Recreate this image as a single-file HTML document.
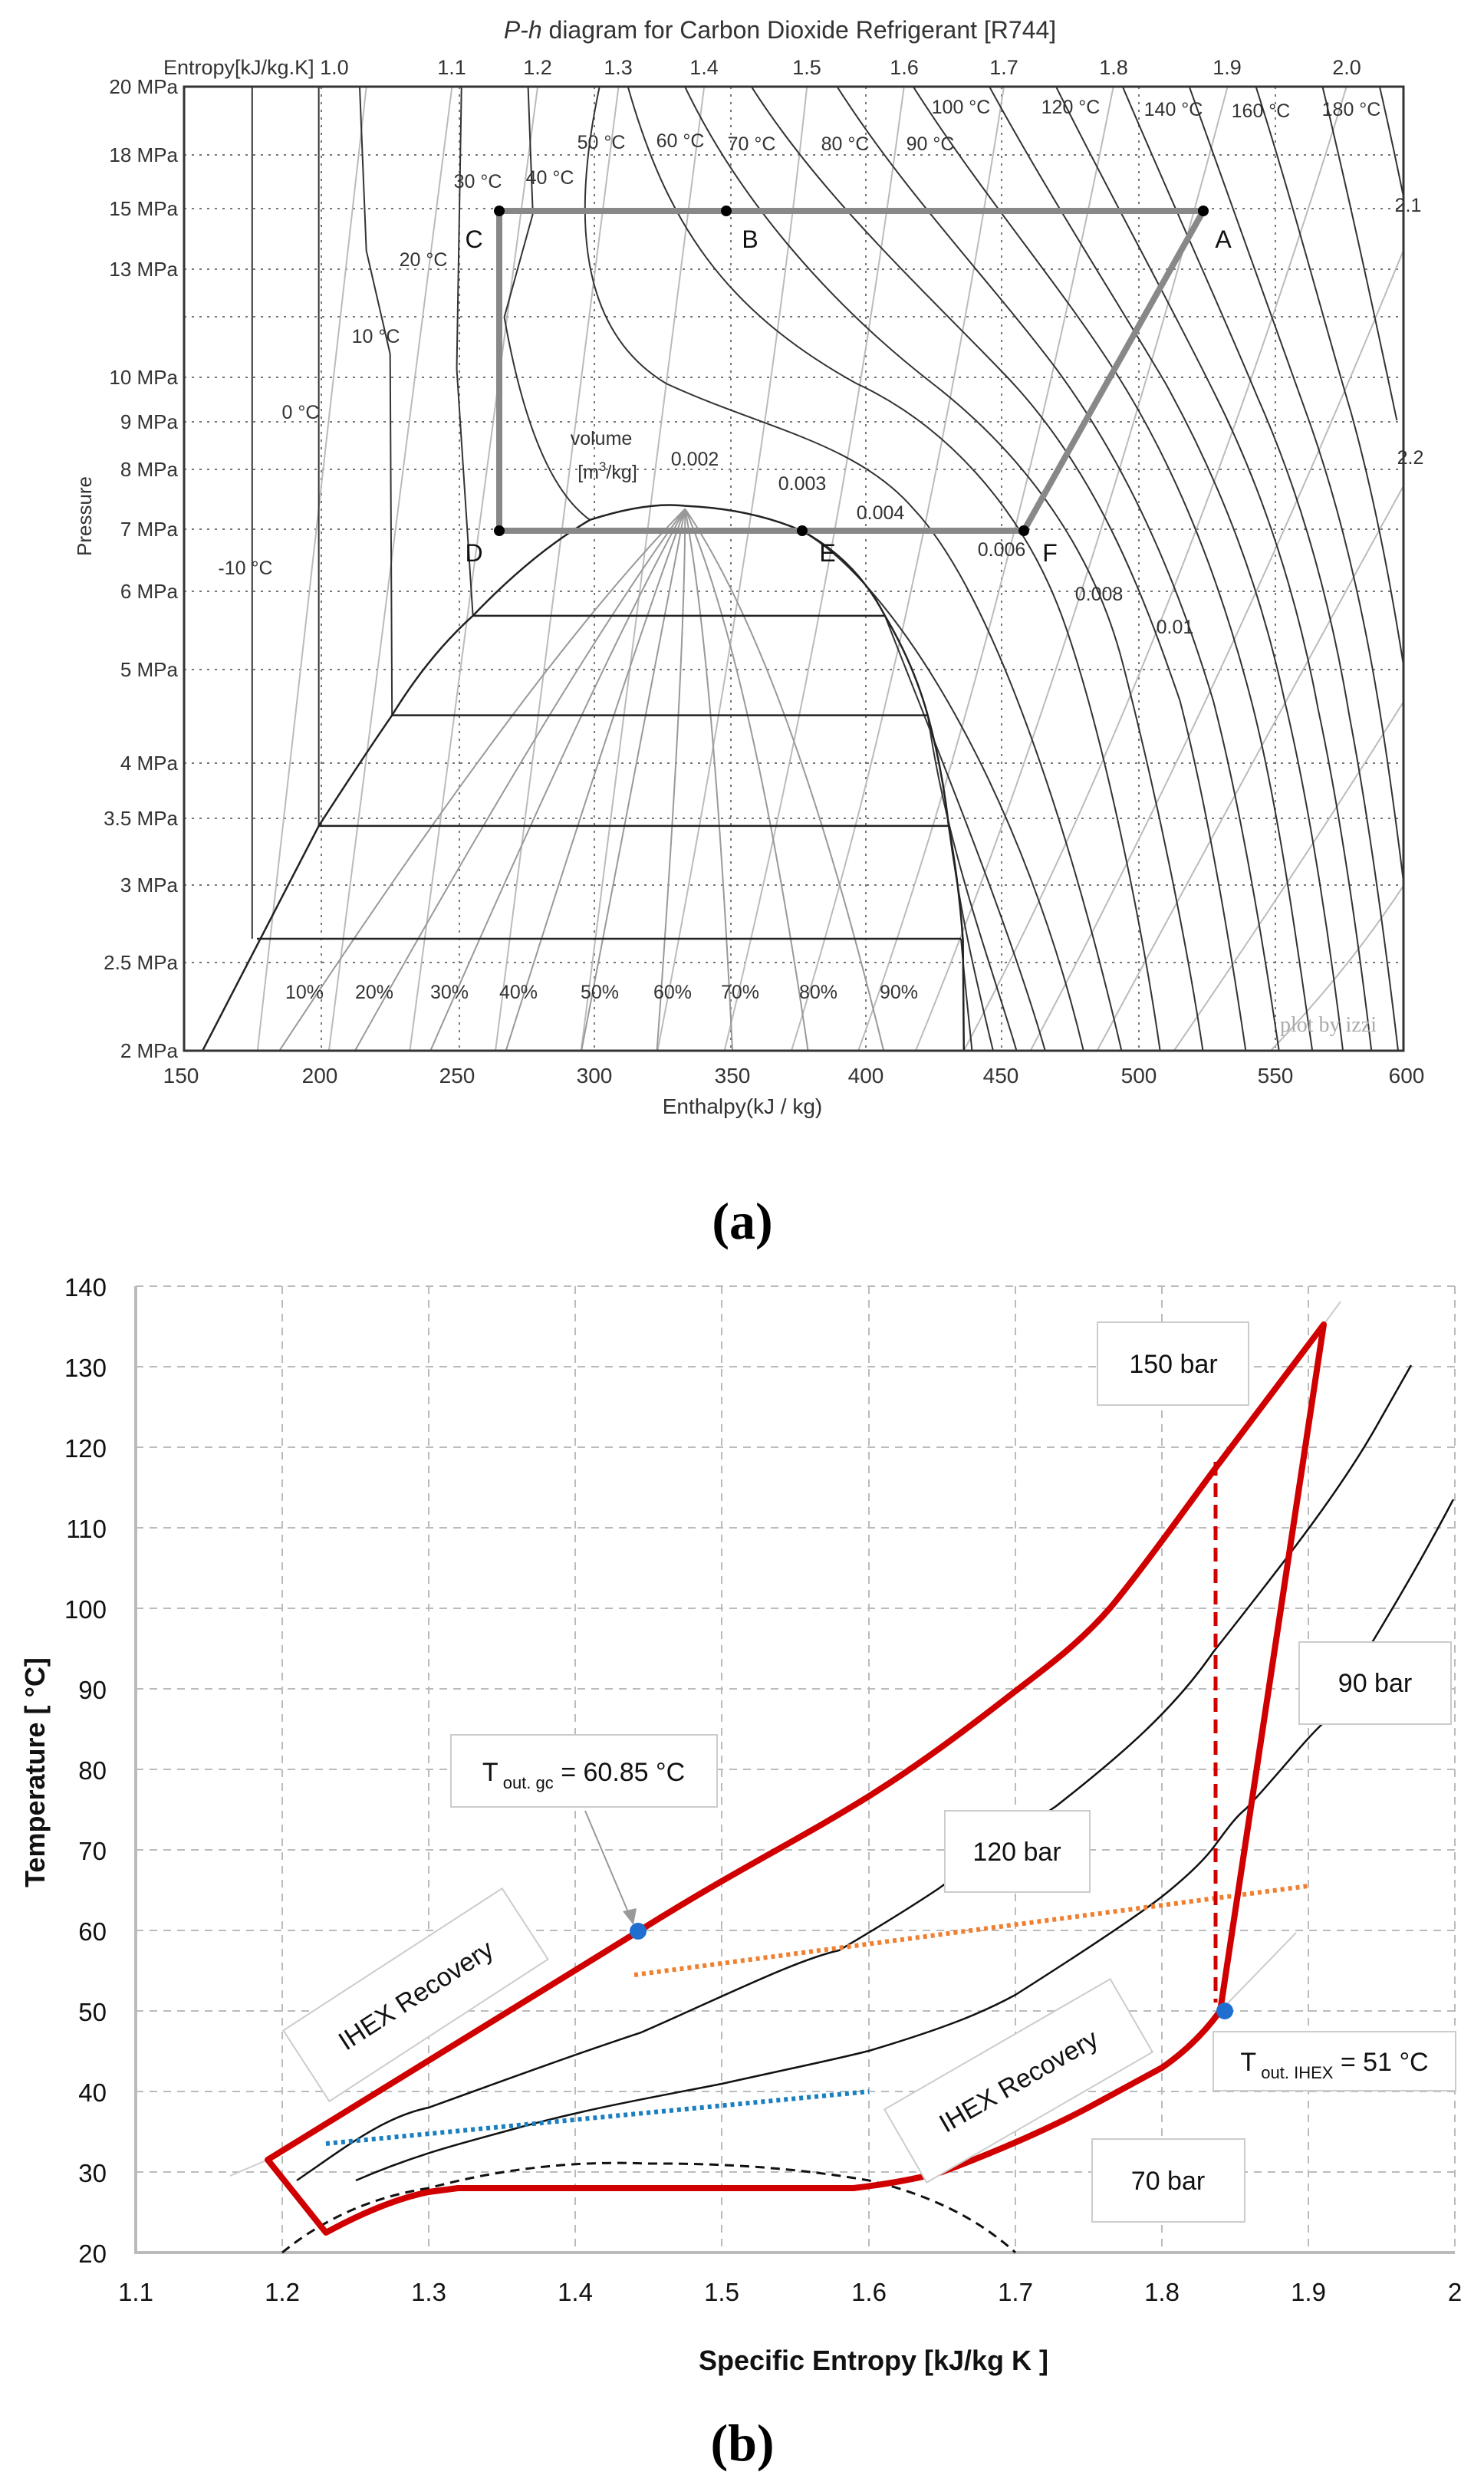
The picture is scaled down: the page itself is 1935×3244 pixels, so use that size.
<!DOCTYPE html>
<html><head><meta charset="utf-8"><style>
html,body{margin:0;padding:0;background:#fff}
svg{display:block}
.t{font-family:"Liberation Sans",sans-serif}
</style></head><body>
<svg width="1935" height="3244" viewBox="0 0 1935 3244" xmlns="http://www.w3.org/2000/svg">
<rect width="1935" height="3244" fill="#fff"/>
<defs><clipPath id="cp"><rect x="240" y="113" width="1590" height="1257"/></clipPath></defs>

<!-- ============ TOP CHART ============ -->
<g class="t" fill="#222">
<text x="1017" y="50" font-size="32" text-anchor="middle" fill="#333"><tspan font-style="italic">P-h</tspan> diagram for Carbon Dioxide Refrigerant [R744]</text>
<g font-size="27" fill="#333">
<text x="213" y="97">Entropy[kJ/kg.K] 1.0</text>
<text x="589" y="97" text-anchor="middle">1.1</text><text x="701" y="97" text-anchor="middle">1.2</text>
<text x="806" y="97" text-anchor="middle">1.3</text><text x="918" y="97" text-anchor="middle">1.4</text>
<text x="1052" y="97" text-anchor="middle">1.5</text><text x="1179" y="97" text-anchor="middle">1.6</text>
<text x="1309" y="97" text-anchor="middle">1.7</text><text x="1452" y="97" text-anchor="middle">1.8</text>
<text x="1600" y="97" text-anchor="middle">1.9</text><text x="1756" y="97" text-anchor="middle">2.0</text>
</g>
<g font-size="26" text-anchor="end" fill="#333">
<text x="232" y="122">20 MPa</text><text x="232" y="211">18 MPa</text><text x="232" y="281">15 MPa</text>
<text x="232" y="360">13 MPa</text><text x="232" y="501">10 MPa</text><text x="232" y="559">9 MPa</text>
<text x="232" y="621">8 MPa</text><text x="232" y="699">7 MPa</text><text x="232" y="780">6 MPa</text>
<text x="232" y="882">5 MPa</text><text x="232" y="1004">4 MPa</text><text x="232" y="1076">3.5 MPa</text>
<text x="232" y="1163">3 MPa</text><text x="232" y="1264">2.5 MPa</text><text x="232" y="1379">2 MPa</text>
</g>
<g font-size="28" text-anchor="middle" fill="#333">
<text x="236" y="1412">150</text><text x="417" y="1412">200</text><text x="596" y="1412">250</text>
<text x="775" y="1412">300</text><text x="955" y="1412">350</text><text x="1129" y="1412">400</text>
<text x="1305" y="1412">450</text><text x="1485" y="1412">500</text><text x="1663" y="1412">550</text>
<text x="1834" y="1412">600</text>
<text x="968" y="1452">Enthalpy(kJ / kg)</text>
</g>
<text transform="translate(119,673) rotate(-90)" font-size="26" text-anchor="middle" fill="#333">Pressure</text>
</g>

<!-- grid -->
<g stroke="#777" stroke-width="2" stroke-dasharray="3,7" fill="none">
<path d="M240 202H1830M240 272H1830M240 351H1830M240 413H1830M240 492H1830M240 550H1830M240 612H1830M240 690H1830M240 771H1830M240 873H1830M240 995H1830M240 1067H1830M240 1154H1830M240 1255H1830"/>
<path d="M419 113V1370M599 113V1370M775 113V1370M953 113V1370M1129 113V1370M1306 113V1370M1485 113V1370M1663 113V1370"/>
</g>

<g clip-path="url(#cp)">
<g transform="scale(1.2407,0.9615)" fill="none">
<g stroke="#bbb" stroke-width="2">
<path vector-effect="non-scaling-stroke" d="M385 118L270 1432M475 118L345 1432M565 118L430 1432M650 118L520 1432M740 118L610 1432M848 118Q800 700 690 1432M950 118Q880 800 760 1432M1055 118Q960 900 830 1432M1170 118Q1050 900 900 1432M1290 118Q1130 900 960 1432M1415 118Q1230 900 1010 1432M1500 260Q1300 900 1080 1432M1500 600Q1330 1000 1150 1432M1500 900Q1380 1150 1230 1432M1500 1150Q1430 1300 1330 1432"/>
</g>
<g stroke="#999" stroke-width="2">
<path vector-effect="non-scaling-stroke" d="M290 1432Q560 900 720 690M370 1432Q600 900 720 690M450 1432Q630 900 720 690M530 1432Q660 900 720 690M610 1432Q690 900 720 690M690 1432Q720 900 720 690M770 1432Q750 900 720 690M850 1432Q790 900 720 690M930 1432Q830 900 720 690"/>
</g>
<g stroke="#333" stroke-width="2">
<path vector-effect="non-scaling-stroke" d="M265 118V1273M1010 1273C1015 1350 1020 1400 1022 1432"/>
<path vector-effect="non-scaling-stroke" d="M335 118V1120M997 1120C1010 1250 1030 1350 1045 1432"/>
<path vector-effect="non-scaling-stroke" d="M378 118L385 340L410 480L412 970M975 970C995 1150 1040 1300 1070 1432"/>
<path vector-effect="non-scaling-stroke" d="M485 118L480 500L497 835M930 835C980 1000 1060 1250 1100 1432"/>
<path vector-effect="non-scaling-stroke" d="M555 118L560 290L530 430Q560 650 620 705M843 720C950 800 1080 1100 1140 1432"/>
<path vector-effect="non-scaling-stroke" d="M630 118C600 300 610 450 700 520C800 580 900 600 960 690C1040 800 1120 1100 1180 1432"/>
<path vector-effect="non-scaling-stroke" d="M660 118C700 300 760 420 900 520C1000 580 1080 700 1120 850C1160 1000 1200 1250 1220 1432"/>
<path vector-effect="non-scaling-stroke" d="M720 118C780 280 880 420 980 520C1080 620 1150 750 1180 900C1220 1100 1250 1300 1265 1432"/>
<path vector-effect="non-scaling-stroke" d="M790 118C860 260 960 380 1050 500C1150 630 1200 800 1240 950C1270 1100 1295 1300 1310 1432"/>
<path vector-effect="non-scaling-stroke" d="M880 118C950 260 1040 380 1110 500C1190 640 1240 800 1275 950C1305 1100 1330 1300 1345 1432"/>
<path vector-effect="non-scaling-stroke" d="M960 118C1030 260 1110 380 1170 500C1240 640 1285 800 1315 950C1345 1100 1365 1300 1380 1432"/>
<path vector-effect="non-scaling-stroke" d="M1040 118C1100 260 1170 400 1225 520C1285 660 1325 800 1350 950C1378 1100 1400 1300 1412 1432"/>
<path vector-effect="non-scaling-stroke" d="M1110 118C1165 260 1225 400 1275 530C1330 670 1365 820 1385 960C1410 1110 1430 1300 1442 1432"/>
<path vector-effect="non-scaling-stroke" d="M1180 118C1230 270 1280 410 1322 540C1370 680 1400 830 1418 970C1440 1120 1458 1300 1470 1432"/>
<path vector-effect="non-scaling-stroke" d="M1250 118C1295 280 1335 420 1370 550C1410 690 1435 840 1452 980C1470 1130 1485 1300 1495 1432"/>
<path vector-effect="non-scaling-stroke" d="M1320 118C1360 280 1390 430 1420 560C1450 700 1470 850 1485 990"/>
<path vector-effect="non-scaling-stroke" d="M1390 118C1420 280 1445 430 1468 570"/>
<path vector-effect="non-scaling-stroke" d="M1450 118C1470 230 1485 330 1495 400"/>
</g>
<g stroke="#222" stroke-width="2.5">
<path vector-effect="non-scaling-stroke" d="M210 1432L335 1120Q380 1030 412 970Q450 890 497 835Q560 750 620 705Q680 680 720 686Q790 690 843 720Q900 760 930 835Q960 900 975 970Q990 1040 997 1120Q1008 1200 1012 1275L1013 1432"/>
<path vector-effect="non-scaling-stroke" d="M497 835H930M412 970H975M335 1120H997M270 1273H1010"/>
</g>
</g>
</g>
<rect x="240" y="113" width="1590" height="1257" fill="none" stroke="#333" stroke-width="3"/>

<path d="M651 692V275H1569L1335 692H651" fill="none" stroke="#888" stroke-width="8" stroke-linejoin="round"/>
<g fill="#000"><circle cx="651" cy="275" r="7"/><circle cx="947" cy="275" r="7"/><circle cx="1569" cy="275" r="7"/>
<circle cx="1335" cy="692" r="7"/><circle cx="1046" cy="692" r="7"/><circle cx="651" cy="692" r="7"/></g>
<g class="t" font-size="32" fill="#111" text-anchor="middle">
<text x="618" y="323">C</text><text x="978" y="323">B</text><text x="1595" y="323">A</text>
<text x="618" y="732">D</text><text x="1079" y="732">E</text><text x="1369" y="732">F</text>
</g>
<g class="t" font-size="25" fill="#333" text-anchor="middle">
<text x="1253" y="148">100 °C</text><text x="1396" y="148">120 °C</text><text x="1530" y="151">140 °C</text>
<text x="1644" y="153">160 °C</text><text x="1762" y="151">180 °C</text>
<text x="784" y="194">50 °C</text><text x="887" y="192">60 °C</text><text x="980" y="196">70 °C</text>
<text x="1102" y="196">80 °C</text><text x="1213" y="196">90 °C</text>
<text x="623" y="245">30 °C</text><text x="717" y="240">40 °C</text><text x="552" y="347">20 °C</text>
<text x="490" y="447">10 °C</text><text x="392" y="546">0 °C</text><text x="320" y="749">-10 °C</text>
<text x="1836" y="276">2.1</text><text x="1839" y="605">2.2</text>
<text x="784" y="580">volume</text><text x="792" y="624">[m<tspan font-size="17" dy="-10">3</tspan><tspan dy="10">/kg]</tspan></text>
<text x="906" y="607">0.002</text><text x="1046" y="639">0.003</text><text x="1148" y="677">0.004</text>
<text x="1306" y="725">0.006</text><text x="1433" y="783">0.008</text><text x="1532" y="826">0.01</text>
<text x="397" y="1302">10%</text><text x="488" y="1302">20%</text><text x="586" y="1302">30%</text>
<text x="676" y="1302">40%</text><text x="782" y="1302">50%</text><text x="877" y="1302">60%</text>
<text x="965" y="1302">70%</text><text x="1067" y="1302">80%</text><text x="1172" y="1302">90%</text>
</g>
<text x="1732" y="1345" font-family="Liberation Serif,serif" font-size="28" fill="#aaa" text-anchor="middle">plot by izzi</text>

<text x="968" y="1615" font-family="Liberation Serif,serif" font-size="68" font-weight="bold" text-anchor="middle">(a)</text>

<!-- ============ BOTTOM CHART ============ -->
<g stroke="#bbb" stroke-width="2" stroke-dasharray="10,8" fill="none">
<path d="M177 1677H1897M177 1782H1897M177 1887H1897M177 1992H1897M177 2097H1897M177 2202H1897M177 2307H1897M177 2412H1897M177 2517H1897M177 2622H1897M177 2727H1897M177 2832H1897"/>
<path d="M368 1677V2937M559 1677V2937M750 1677V2937M941 1677V2937M1133 1677V2937M1324 1677V2937M1515 1677V2937M1706 1677V2937M1897 1677V2937"/>
</g>
<path d="M177 1677V2937H1897" stroke="#bbb" stroke-width="4" fill="none"/>
<g class="t" font-size="33" fill="#111">
<g text-anchor="end">
<text x="139" y="1690">140</text><text x="139" y="1795">130</text><text x="139" y="1900">120</text>
<text x="139" y="2005">110</text><text x="139" y="2110">100</text><text x="139" y="2215">90</text>
<text x="139" y="2320">80</text><text x="139" y="2425">70</text><text x="139" y="2530">60</text>
<text x="139" y="2635">50</text><text x="139" y="2740">40</text><text x="139" y="2845">30</text>
<text x="139" y="2950">20</text>
</g>
<g text-anchor="middle">
<text x="177" y="3000">1.1</text><text x="368" y="3000">1.2</text><text x="559" y="3000">1.3</text>
<text x="750" y="3000">1.4</text><text x="941" y="3000">1.5</text><text x="1133" y="3000">1.6</text>
<text x="1324" y="3000">1.7</text><text x="1515" y="3000">1.8</text><text x="1706" y="3000">1.9</text>
<text x="1897" y="3000">2</text>
</g>
<text x="1139" y="3090" text-anchor="middle" font-weight="bold" font-size="36">Specific Entropy [kJ/kg K ]</text>
<text transform="translate(58,2311) rotate(-90)" text-anchor="middle" font-weight="bold" font-size="36">Temperature [ °C]</text>
</g>

<!-- gray helper lines -->
<path d="M300 2837L349 2816M1726 1727L1748 1697M1591 2622L1690 2520" stroke="#ccc" stroke-width="2" fill="none"/>
<!-- dome -->
<path d="M368 2937Q450 2870 559 2853Q700 2815 845 2821Q1000 2820 1133 2843Q1250 2870 1324 2937" stroke="#111" stroke-width="3" stroke-dasharray="12,8" fill="none"/>
<!-- 120 bar -->
<path d="M387 2843C450 2800 500 2760 559 2748C650 2715 760 2675 836 2650C950 2600 1040 2555 1094 2543C1150 2510 1190 2485 1223 2463C1290 2415 1340 2380 1377 2355C1460 2290 1530 2230 1582 2154C1680 2030 1750 1940 1798 1854L1840 1780" stroke="#111" stroke-width="2.5" fill="none"/>
<!-- 90 bar -->
<path d="M464 2843C540 2810 600 2795 655 2780C760 2750 850 2735 941 2717C1040 2695 1090 2685 1133 2674C1230 2645 1280 2625 1324 2601C1420 2540 1480 2500 1515 2473C1550 2445 1570 2425 1582 2409C1600 2385 1610 2370 1625 2358C1670 2310 1700 2270 1726 2246C1790 2140 1840 2060 1895 1955" stroke="#111" stroke-width="2.5" fill="none"/>
<!-- dotted -->
<path d="M827 2575L1706 2459" stroke="#f08030" stroke-width="6" stroke-dasharray="5,5" fill="none"/>
<path d="M425 2795L1133 2727" stroke="#1a7fbf" stroke-width="6" stroke-dasharray="5,5" fill="none"/>
<!-- red cycle -->
<path d="M349 2816L425 2911Q500 2870 559 2858L597 2853H1113Q1180 2845 1228 2832Q1340 2790 1419 2748Q1480 2715 1515 2696Q1560 2665 1591 2622L1726 1727L1582 1918C1540 1975 1490 2045 1448 2096C1410 2140 1370 2170 1324 2205C1260 2255 1200 2300 1133 2342C1040 2400 960 2438 831 2519Z" stroke="#d00000" stroke-width="8" stroke-linejoin="round" fill="none"/>
<path d="M1585 1906V2611" stroke="#d00000" stroke-width="5" stroke-dasharray="18,10" fill="none"/>
<circle cx="832" cy="2518" r="11" fill="#1e6fd0"/>
<circle cx="1597" cy="2622" r="11" fill="#1e6fd0"/>
<path d="M763 2361L822 2500" stroke="#999" stroke-width="2" fill="none"/>
<path d="M812 2492L826 2510L830 2488Z" fill="#999"/>

<!-- boxes -->
<g class="t" font-size="34" fill="#111" text-anchor="middle">
<rect x="1431" y="1724" width="197" height="108" fill="#fff" stroke="#ccc" stroke-width="2"/><text x="1530" y="1790">150 bar</text>
<rect x="1694" y="2141" width="198" height="107" fill="#fff" stroke="#ccc" stroke-width="2"/><text x="1793" y="2206">90 bar</text>
<rect x="1232" y="2361" width="189" height="106" fill="#fff" stroke="#ccc" stroke-width="2"/><text x="1326" y="2426">120 bar</text>
<rect x="588" y="2262" width="347" height="94" fill="#fff" stroke="#ccc" stroke-width="2"/><text x="761" y="2322">T<tspan font-size="22" dy="10"> out. gc</tspan><tspan dy="-10"> = 60.85 °C</tspan></text>
<rect x="1582" y="2649" width="316" height="77" fill="#fff" stroke="#ccc" stroke-width="2"/><text x="1740" y="2700">T<tspan font-size="22" dy="10"> out. IHEX</tspan><tspan dy="-10"> = 51 °C</tspan></text>
<rect x="1424" y="2789" width="199" height="108" fill="#fff" stroke="#ccc" stroke-width="2"/><text x="1523" y="2855">70 bar</text>
<g transform="translate(542,2601) rotate(-33)"><rect x="-170" y="-55" width="340" height="110" fill="#fff" stroke="#ccc" stroke-width="2"/><text x="0" y="12">IHEX Recovery</text></g>
<g transform="translate(1328,2713) rotate(-30)"><rect x="-170" y="-55" width="340" height="110" fill="#fff" stroke="#ccc" stroke-width="2"/><text x="0" y="12">IHEX Recovery</text></g>
</g>

<text x="968" y="3208" font-family="Liberation Serif,serif" font-size="68" font-weight="bold" text-anchor="middle">(b)</text>
</svg>
</body></html>
